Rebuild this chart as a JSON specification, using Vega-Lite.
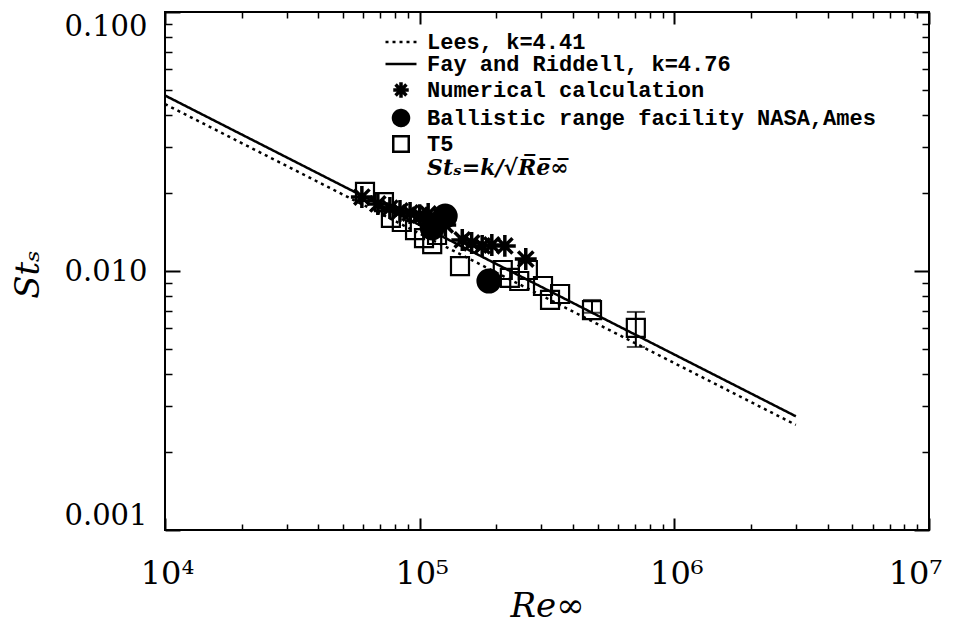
{
  "$schema": "https://vega.github.io/schema/vega-lite/v6.json",
  "width": 764,
  "height": 518,
  "autosize": {"type": "none"},
  "padding": {"left": 165, "top": 12, "right": 33, "bottom": 109},
  "background": "white",
  "config": {
    "view": {"stroke": "black", "strokeWidth": 2},
    "axis": {"domain": false, "grid": false, "tickColor": "black", "labelColor": "black", "titleColor": "black"}
  },
  "datasets": {
    "lines": [
      {"Re": 10000, "St": 0.0441, "series": "Lees, k=4.41"},
      {"Re": 3000000, "St": 0.002546, "series": "Lees, k=4.41"},
      {"Re": 10000, "St": 0.0476, "series": "Fay and Riddell, k=4.76"},
      {"Re": 3000000, "St": 0.002748, "series": "Fay and Riddell, k=4.76"}
    ],
    "points": [
      {"Re": 59300, "St": 0.0193, "series": "Numerical calculation"},
      {"Re": 68500, "St": 0.01815, "series": "Numerical calculation"},
      {"Re": 76400, "St": 0.0175, "series": "Numerical calculation"},
      {"Re": 83700, "St": 0.01706, "series": "Numerical calculation"},
      {"Re": 91700, "St": 0.01675, "series": "Numerical calculation"},
      {"Re": 100000, "St": 0.01644, "series": "Numerical calculation"},
      {"Re": 108000, "St": 0.0166, "series": "Numerical calculation"},
      {"Re": 115000, "St": 0.01574, "series": "Numerical calculation"},
      {"Re": 126000, "St": 0.01506, "series": "Numerical calculation"},
      {"Re": 147000, "St": 0.01318, "series": "Numerical calculation"},
      {"Re": 160000, "St": 0.01283, "series": "Numerical calculation"},
      {"Re": 176000, "St": 0.0125, "series": "Numerical calculation"},
      {"Re": 192000, "St": 0.0126, "series": "Numerical calculation"},
      {"Re": 216000, "St": 0.0125, "series": "Numerical calculation"},
      {"Re": 261000, "St": 0.01112, "series": "Numerical calculation"},
      {"Re": 112000, "St": 0.01466, "series": "Ballistic range facility NASA,Ames"},
      {"Re": 126000, "St": 0.0163, "series": "Ballistic range facility NASA,Ames"},
      {"Re": 187000, "St": 0.00914, "series": "Ballistic range facility NASA,Ames"},
      {"Re": 61000, "St": 0.0202, "series": "T5"},
      {"Re": 72400, "St": 0.01845, "series": "T5"},
      {"Re": 77100, "St": 0.01603, "series": "T5"},
      {"Re": 85100, "St": 0.01546, "series": "T5"},
      {"Re": 95900, "St": 0.01439, "series": "T5"},
      {"Re": 104000, "St": 0.0134, "series": "T5"},
      {"Re": 112000, "St": 0.0127, "series": "T5"},
      {"Re": 117000, "St": 0.01377, "series": "T5"},
      {"Re": 144000, "St": 0.01045, "series": "T5"},
      {"Re": 212000, "St": 0.01009, "series": "T5"},
      {"Re": 226000, "St": 0.0094, "series": "T5"},
      {"Re": 246000, "St": 0.00915, "series": "T5"},
      {"Re": 266000, "St": 0.01009, "series": "T5"},
      {"Re": 305000, "St": 0.00875, "series": "T5"},
      {"Re": 325000, "St": 0.00773, "series": "T5"},
      {"Re": 356000, "St": 0.00815, "series": "T5"},
      {"Re": 475000, "St": 0.00706, "series": "T5"},
      {"Re": 706000, "St": 0.00603, "series": "T5"}
    ],
    "errors": [
      {"Re": 475000, "lo": 0.0069, "hi": 0.00773},
      {"Re": 706000, "lo": 0.00509, "hi": 0.00695}
    ]
  },
  "resolve": {"axis": {"x": "independent", "y": "independent"}},
  "layer": [
    {
      "data": {"name": "lines"},
      "mark": {"type": "line", "color": "black", "strokeWidth": 2.5},
      "encoding": {
        "x": {
          "field": "Re", "type": "quantitative",
          "scale": {"type": "log", "domain": [10000, 10000000]},
          "axis": {
            "orient": "bottom", "values": [10000, 100000, 1000000, 10000000],
            "labelExpr": "datum.value < 5e4 ? '10⁴' : datum.value < 5e5 ? '10⁵' : datum.value < 5e6 ? '10⁶' : '10⁷'",
            "tickSize": -12, "tickWidth": 2, "labelFont": "DejaVu Serif", "labelFontSize": 32,
            "labelPadding": 40, "labelFlush": false, "labelOverlap": false,
            "labelOffset": {"condition": {"test": "datum.value > 5e6", "value": -14}, "value": 2},
            "title": "Re∞", "titleFont": "DejaVu Serif", "titleFontStyle": "italic", "titleFontWeight": "normal",
            "titleFontSize": 34, "titleX": 382, "titleY": 76, "titleBaseline": "middle", "titleAlign": "center"
          }
        },
        "y": {
          "field": "St", "type": "quantitative",
          "scale": {"type": "log", "domain": [0.001, 0.1]},
          "axis": {
            "orient": "left", "values": [0.001, 0.01, 0.1], "format": ".3f",
            "tickSize": -15, "tickWidth": 2, "labelFont": "DejaVu Serif", "labelFontSize": 29,
            "labelPadding": 33, "labelFlush": true, "labelOverlap": false,
            "title": "Stₛ", "titleFont": "DejaVu Serif", "titleFontStyle": "italic", "titleFontWeight": "normal",
            "titleFontSize": 34, "titleX": -137, "titleY": 262, "titleBaseline": "middle", "titleAlign": "center", "titleAngle": -90
          }
        },
        "strokeDash": {
          "field": "series", "type": "nominal",
          "scale": {"domain": ["Lees, k=4.41", "Fay and Riddell, k=4.76"], "range": [[3, 4], [1, 0]]},
          "legend": null
        }
      }
    },
    {
      "data": {"name": "points"},
      "mark": {"type": "point", "stroke": "black", "strokeWidth": 3, "opacity": 1},
      "encoding": {
        "x": {
          "field": "Re", "type": "quantitative",
          "scale": {"type": "log", "domain": [10000, 10000000]},
          "axis": {
            "orient": "bottom",
            "values": [20000, 30000, 40000, 50000, 60000, 70000, 80000, 90000, 200000, 300000, 400000, 500000, 600000, 700000, 800000, 900000, 2000000, 3000000, 4000000, 5000000, 6000000, 7000000, 8000000, 9000000],
            "labels": false, "tickSize": -6, "tickWidth": 1.5, "title": null
          }
        },
        "y": {
          "field": "St", "type": "quantitative",
          "scale": {"type": "log", "domain": [0.001, 0.1]},
          "axis": {
            "orient": "left",
            "values": [0.002, 0.003, 0.004, 0.005, 0.006, 0.007, 0.008, 0.009, 0.02, 0.03, 0.04, 0.05, 0.06, 0.07, 0.08, 0.09],
            "labels": false, "tickSize": -7, "tickWidth": 1.5, "title": null
          }
        },
        "shape": {
          "field": "series", "type": "nominal",
          "scale": {
            "domain": ["Lees, k=4.41", "Fay and Riddell, k=4.76", "Numerical calculation", "Ballistic range facility NASA,Ames", "T5", "Stₛ=k/√R̅e̅∞̅"],
            "range": ["M-2,0L2,0", "M-2,0L2,0", "M-1,0L1,0M0,-1L0,1M-0.7,-0.7L0.7,0.7M-0.7,0.7L0.7,-0.7", "circle", "square", "M0,0"]
          },
          "legend": {
            "orient": "none", "legendX": 225, "legendY": 19, "title": null,
            "symbolSize": 256, "symbolStrokeWidth": 2.5, "symbolStrokeColor": "black",
            "labelFont": "Liberation Mono", "labelFontSize": 22, "labelFontWeight": "bold", "labelColor": "black",
            "labelOffset": 15, "rowPadding": 0, "labelLimit": 600,
            "encoding": {
              "symbols": {
                "size": {"value": {"signal": "datum.value === 'Ballistic range facility NASA,Ames' ? 256 : datum.value === 'Stₛ=k/√R̅e̅∞̅' ? 0 : 240"}},
                "fill": {"value": {"signal": "datum.value === 'Ballistic range facility NASA,Ames' ? 'black' : 'transparent'"}},
                "stroke": {"value": "black"},
                "strokeWidth": {"value": {"signal": "datum.value === 'Numerical calculation' ? 3.5 : 2.5"}},
                "strokeDash": {"value": {"signal": "datum.value === 'Lees, k=4.41' ? [3, 4] : [1, 0]"}},
                "opacity": {"value": 1}
              },
              "labels": {
                "fontStyle": {"value": {"signal": "datum.value === 'Stₛ=k/√R̅e̅∞̅' ? 'italic' : 'normal'"}},
                "font": {"value": {"signal": "datum.value === 'Stₛ=k/√R̅e̅∞̅' ? 'DejaVu Serif' : 'Liberation Mono'"}}
              }
            }
          }
        },
        "fill": {
          "condition": {"test": "datum.series === 'Ballistic range facility NASA,Ames'", "value": "black"},
          "value": "transparent"
        },
        "size": {
          "condition": [
            {"test": "datum.series === 'Ballistic range facility NASA,Ames'", "value": 520},
            {"test": "datum.series === 'Numerical calculation'", "value": 480}
          ],
          "value": 324
        },
        "strokeWidth": {
          "condition": {"test": "datum.series === 'Numerical calculation'", "value": 3.5},
          "value": 2.2
        }
      }
    },
    {
      "data": {"name": "errors"},
      "mark": {"type": "rule", "color": "black", "strokeWidth": 2},
      "encoding": {
        "x": {
          "field": "Re", "type": "quantitative",
          "scale": {"type": "log", "domain": [10000, 10000000]},
          "axis": {"orient": "top", "values": [10000, 100000, 1000000, 10000000], "labels": false, "tickSize": -12, "tickWidth": 2, "title": null}
        },
        "y": {
          "field": "lo", "type": "quantitative",
          "scale": {"type": "log", "domain": [0.001, 0.1]},
          "axis": {"orient": "right", "values": [0.001, 0.01, 0.1], "labels": false, "tickSize": -15, "tickWidth": 2, "title": null}
        },
        "y2": {"field": "hi"}
      }
    },
    {
      "data": {"name": "errors"},
      "mark": {"type": "tick", "color": "black", "orient": "horizontal", "size": 18, "thickness": 2},
      "encoding": {
        "x": {
          "field": "Re", "type": "quantitative",
          "scale": {"type": "log", "domain": [10000, 10000000]},
          "axis": {
            "orient": "top",
            "values": [20000, 30000, 40000, 50000, 60000, 70000, 80000, 90000, 200000, 300000, 400000, 500000, 600000, 700000, 800000, 900000, 2000000, 3000000, 4000000, 5000000, 6000000, 7000000, 8000000, 9000000],
            "labels": false, "tickSize": -6, "tickWidth": 1.5, "title": null
          }
        },
        "y": {
          "field": "hi", "type": "quantitative",
          "scale": {"type": "log", "domain": [0.001, 0.1]},
          "axis": {
            "orient": "right",
            "values": [0.002, 0.003, 0.004, 0.005, 0.006, 0.007, 0.008, 0.009, 0.02, 0.03, 0.04, 0.05, 0.06, 0.07, 0.08, 0.09],
            "labels": false, "tickSize": -7, "tickWidth": 1.5, "title": null
          }
        }
      }
    },
    {
      "data": {"name": "errors"},
      "mark": {"type": "tick", "color": "black", "orient": "horizontal", "size": 18, "thickness": 2},
      "encoding": {
        "x": {"field": "Re", "type": "quantitative", "scale": {"type": "log", "domain": [10000, 10000000]}, "axis": null},
        "y": {"field": "lo", "type": "quantitative", "scale": {"type": "log", "domain": [0.001, 0.1]}, "axis": null}
      }
    }
  ]
}
